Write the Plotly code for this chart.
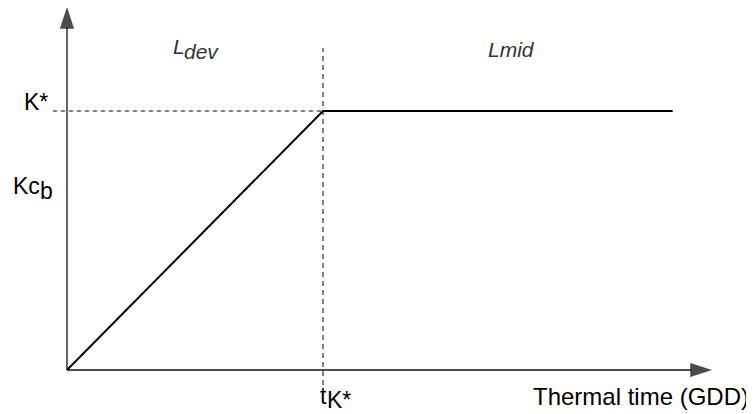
import plotly.graph_objects as go

# basal crop coefficient curve (schematic): linear rise to K*, then plateau
t_k = 1.0          # thermal time where K* is reached
k_star = 1.0       # K*
t_end = 2.366      # end of the drawn plateau

curve_x = [0, t_k, t_end]
curve_y = [0, k_star, k_star]

# axis extents (arrows) and guide lines
x_axis_x = [0, 2.52]
x_axis_y = [0, 0]
y_axis_x = [0, 0]
y_axis_y = [0, 1.402]
hguide_x = [-0.055, t_k]
hguide_y = [k_star, k_star]
vguide_x = [t_k, t_k]
vguide_y = [-0.058, 1.243]

# page is 754x414 but the html body has an 8px margin
PAGE_W, PAGE_H, OFF = 754, 414, 8
W, H = PAGE_W - OFF, PAGE_H - OFF
X0, Y0, SX, SY = 67, 370, 256, 259   # page pixels of origin, px per unit
FONT = "Liberation Sans, Arial, sans-serif"

fig = go.Figure()

# guides
fig.add_trace(go.Scatter(x=hguide_x, y=hguide_y, mode="lines",
                         line=dict(color="#000", width=1, dash="4px,4px")))
fig.add_trace(go.Scatter(x=vguide_x, y=vguide_y, mode="lines",
                         line=dict(color="#000", width=1, dash="5px,4px")))

# axes with arrowheads
for ax_x, ax_y in [(x_axis_x, x_axis_y), (y_axis_x, y_axis_y)]:
    fig.add_trace(go.Scatter(
        x=ax_x, y=ax_y, mode="lines+markers",
        line=dict(color="#111", width=1.3),
        marker=dict(symbol=["circle", "arrow"], size=[0, 23], color="#000",
                    angleref="previous", line=dict(width=0)),
    ))

# the curve
fig.add_trace(go.Scatter(x=curve_x, y=curve_y, mode="lines",
                         line=dict(color="#000", width=2)))


def lab(text, xp, yp, xanchor="center", size=23, color="#000", italic=False):
    # xp, yp are page pixels
    fig.add_annotation(
        x=(xp - OFF) / W, y=1 - (yp - OFF) / H, xref="paper", yref="paper",
        text=text, showarrow=False, xanchor=xanchor, yanchor="middle",
        borderpad=0, borderwidth=0,
        font=dict(family=FONT, size=size, color=color,
                  style="italic" if italic else "normal"),
    )


# y-side labels
lab("K*", 48, 102, "right")
lab("Kc", 40, 186, "right")
lab("b", 40, 191, "left")
# phase labels
lab("L", 173, 46, "left", size=21, color="#333", italic=True)
lab("dev", 184, 51, "left", size=21, color="#333", italic=True)
lab("Lmid", 511, 50, "center", size=21, color="#333", italic=True)
# x-side labels
lab("t", 327, 396, "right")
lab("K*", 327, 400, "left")
lab("Thermal time (GDD)", 749, 396, "right", size=24)

fig.update_layout(
    width=W, height=H,
    margin=dict(l=0, r=0, t=0, b=0),
    paper_bgcolor="white", plot_bgcolor="white",
    showlegend=False,
    xaxis=dict(range=[(OFF - X0) / SX, (PAGE_W - X0) / SX], visible=False),
    yaxis=dict(range=[(Y0 - PAGE_H) / SY, (Y0 - OFF) / SY], visible=False),
)

fig.write_html("out.html")
